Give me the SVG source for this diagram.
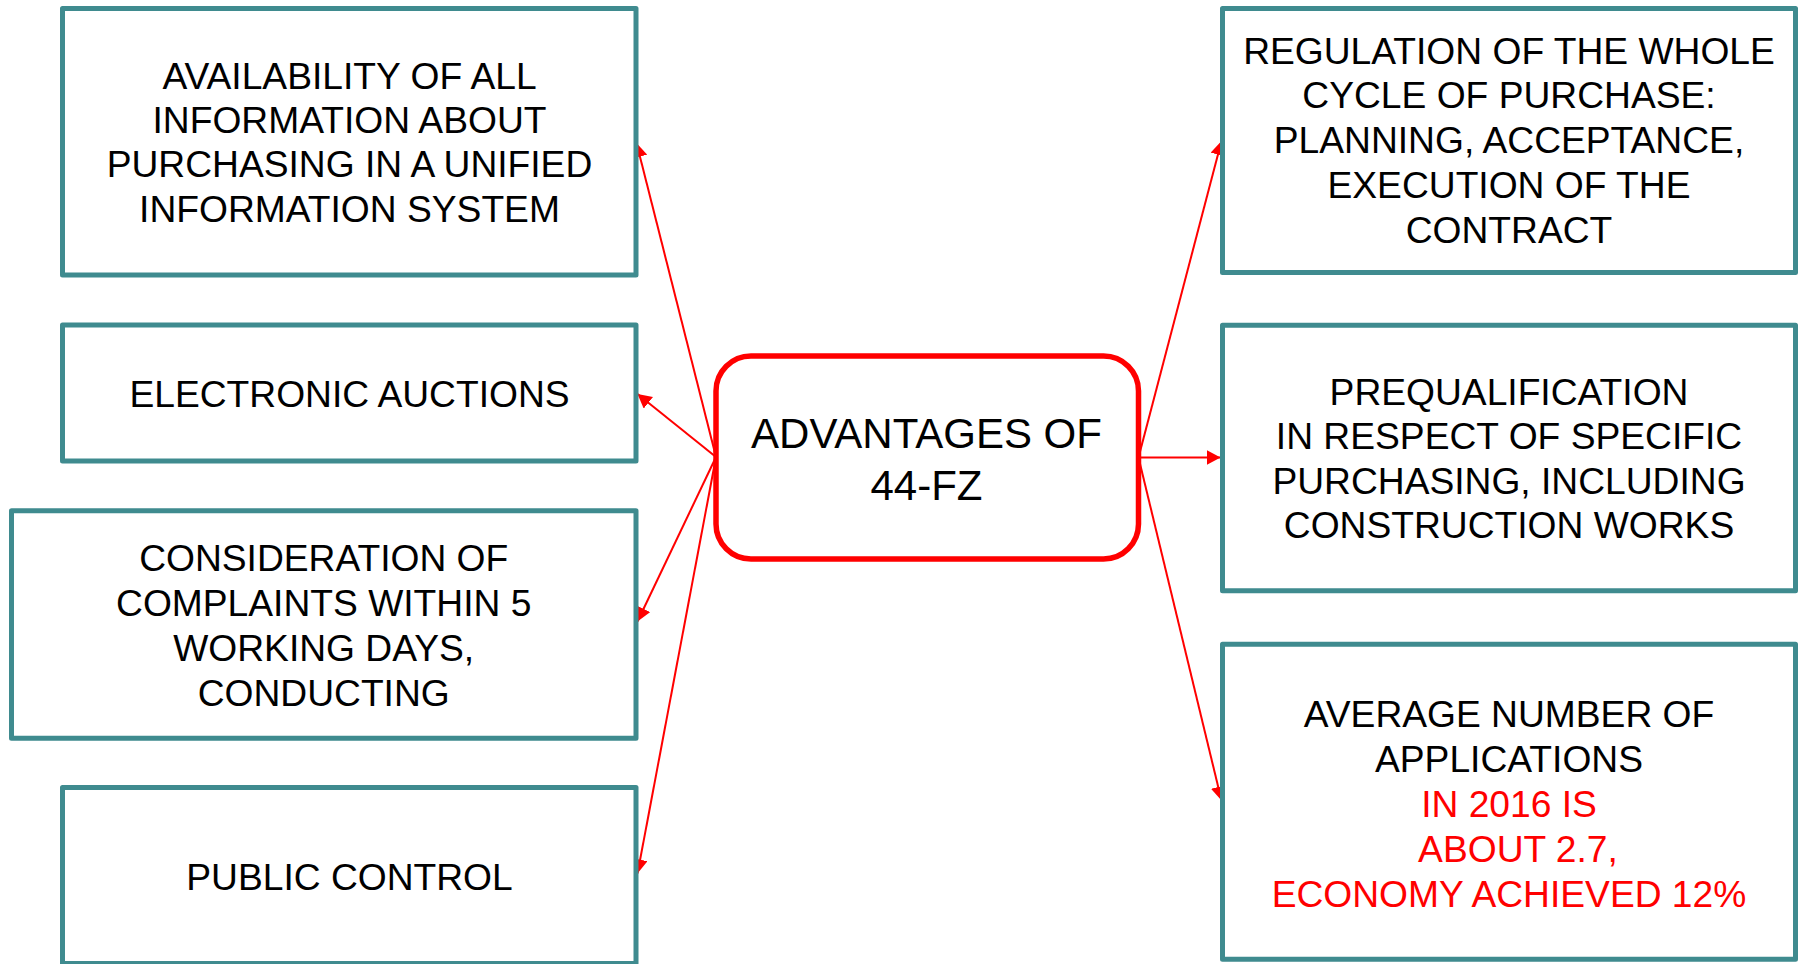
<svg xmlns="http://www.w3.org/2000/svg" width="1802" height="964" viewBox="0 0 1802 964">
<style>
.box{fill:#ffffff;stroke:#3f8b8f;stroke-width:5;stroke-linejoin:round}
.center{fill:#ffffff;stroke:#ff0000;stroke-width:5.5}
.t{font-family:"Liberation Sans",Arial,sans-serif;font-size:37.2px;fill:#000000;text-anchor:middle}
.tc{font-family:"Liberation Sans",Arial,sans-serif;font-size:42px;fill:#000000;text-anchor:middle}
.red{fill:#ff0000}
.conn{stroke:#ff0000;stroke-width:2;fill:none}
</style>
<defs>
<marker id="ah" viewBox="0 0 14 15" refX="14" refY="7.5" markerWidth="14" markerHeight="15" markerUnits="userSpaceOnUse" orient="auto">
<path d="M0,0 L14,7.5 L0,15 z" fill="#ff0000"/>
</marker>
</defs>
<rect width="1802" height="964" fill="#ffffff"/>
<g id="connectors">
<line class="conn" x1="716" y1="457" x2="636.5" y2="143" marker-end="url(#ah)"/>
<line class="conn" x1="716" y1="457" x2="637.5" y2="394" marker-end="url(#ah)"/>
<line class="conn" x1="716" y1="457" x2="637.5" y2="621.5" marker-end="url(#ah)"/>
<line class="conn" x1="716" y1="457" x2="637.5" y2="873.5" marker-end="url(#ah)"/>
<line class="conn" x1="1138.5" y1="457.5" x2="1221.5" y2="141" marker-end="url(#ah)"/>
<line class="conn" x1="1138.5" y1="457.5" x2="1220.5" y2="457.5" marker-end="url(#ah)"/>
<line class="conn" x1="1138.5" y1="457.5" x2="1221.5" y2="800.5" marker-end="url(#ah)"/>
</g>
<g id="node-center">
<rect class="center" x="716" y="356" width="422.5" height="203" rx="35" ry="35"/>
<text class="tc" x="926.5" y="448">ADVANTAGES OF</text>
<text class="tc" x="926.5" y="499.5">44-FZ</text>
</g>
<g id="node-availability">
<rect class="box" x="62.5" y="8.5" width="573.5" height="266.5"/>
<text class="t" x="349.5" y="88.5">AVAILABILITY OF ALL</text>
<text class="t" x="349.5" y="132.5">INFORMATION ABOUT</text>
<text class="t" x="349.5" y="177">PURCHASING IN A UNIFIED</text>
<text class="t" x="349.5" y="221.5">INFORMATION SYSTEM</text>
</g>
<g id="node-auctions">
<rect class="box" x="62.5" y="325" width="573.5" height="136"/>
<text class="t" x="349.5" y="407">ELECTRONIC AUCTIONS</text>
</g>
<g id="node-complaints">
<rect class="box" x="11.5" y="510.8" width="624.5" height="227.5"/>
<text class="t" x="323.7" y="571">CONSIDERATION OF</text>
<text class="t" x="323.7" y="616">COMPLAINTS WITHIN 5</text>
<text class="t" x="323.7" y="661">WORKING DAYS,</text>
<text class="t" x="323.7" y="706">CONDUCTING</text>
</g>
<g id="node-public">
<rect class="box" x="62.5" y="787.5" width="573.5" height="176"/>
<text class="t" x="349.5" y="889.5">PUBLIC CONTROL</text>
</g>
<g id="node-regulation">
<rect class="box" x="1222.5" y="8.5" width="573" height="264"/>
<text class="t" x="1509" y="63.5">REGULATION OF THE WHOLE</text>
<text class="t" x="1509" y="108.3">CYCLE OF PURCHASE:</text>
<text class="t" x="1509" y="153.2">PLANNING, ACCEPTANCE,</text>
<text class="t" x="1509" y="198">EXECUTION OF THE</text>
<text class="t" x="1509" y="242.8">CONTRACT</text>
</g>
<g id="node-prequalification">
<rect class="box" x="1222.5" y="325.2" width="573" height="265.6"/>
<text class="t" x="1509" y="404.5">PREQUALIFICATION</text>
<text class="t" x="1509" y="449">IN RESPECT OF SPECIFIC</text>
<text class="t" x="1509" y="493.5">PURCHASING, INCLUDING</text>
<text class="t" x="1509" y="538">CONSTRUCTION WORKS</text>
</g>
<g id="node-average">
<rect class="box" x="1222.5" y="644.2" width="573" height="315"/>
<text class="t" x="1509" y="726.7">AVERAGE NUMBER OF</text>
<text class="t" x="1509" y="771.7">APPLICATIONS</text>
<text class="t red" x="1509" y="816.7">IN 2016 IS</text>
<text class="t red" x="1518" y="861.7">ABOUT 2.7,</text>
<text class="t red" x="1509" y="906.5">ECONOMY ACHIEVED 12%</text>
</g>
</svg>
